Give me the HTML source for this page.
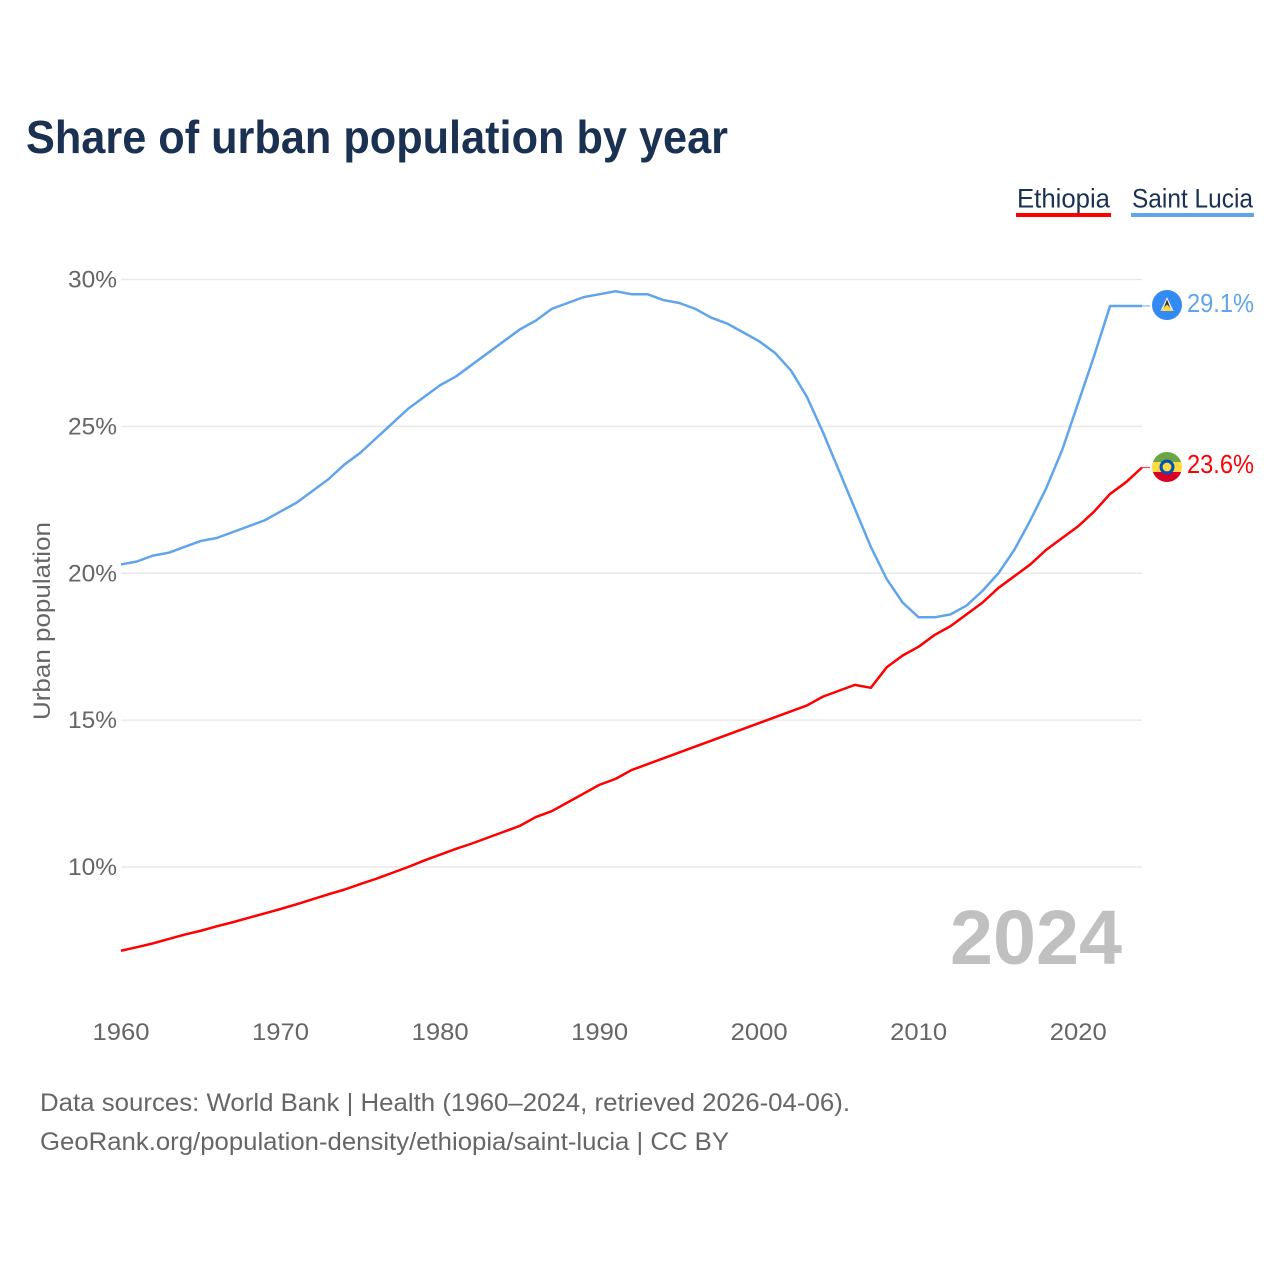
<!DOCTYPE html>
<html lang="en">
<head>
<meta charset="utf-8">
<title>Share of urban population by year</title>
<style>
  html, body { margin: 0; padding: 0; background: #fff; }
  svg { display: block; font-family: "Liberation Sans", sans-serif; }
</style>
</head>
<body>
<svg id="chart" width="1280" height="1280" viewBox="0 0 1280 1280" xmlns="http://www.w3.org/2000/svg">
  <defs>
    <clipPath id="lucia-clip"><circle cx="1167" cy="305" r="15"/></clipPath>
    <clipPath id="ethiopia-clip"><circle cx="1167" cy="467" r="15"/></clipPath>
  </defs>
  <rect width="1280" height="1280" fill="#fff"/>
  <text x="26" y="153" font-size="46" font-weight="700" fill="#1a3152" textLength="702" lengthAdjust="spacingAndGlyphs">Share of urban population by year</text>

  <g>
    <text x="1017" y="207.5" font-size="26.5" fill="#1a3152" textLength="93" lengthAdjust="spacingAndGlyphs">Ethiopia</text>
    <rect x="1016" y="213" width="95" height="4" fill="#ff0000"/>
    <text x="1132" y="207.5" font-size="26.5" fill="#1a3152" textLength="121" lengthAdjust="spacingAndGlyphs">Saint Lucia</text>
    <rect x="1131" y="213" width="123" height="4" fill="#60a5ec"/>
  </g>

  <g id="grid"></g>
  <g id="y-ticks"></g>
  <g id="x-ticks"></g>

  <text transform="translate(50,720) rotate(-90)" x="0" y="0" font-size="24" fill="#666" textLength="198" lengthAdjust="spacingAndGlyphs">Urban population</text>

  <text x="950" y="964" font-size="77" font-weight="700" fill="#c0c0c0" textLength="172" lengthAdjust="spacingAndGlyphs">2024</text>

  <g id="series"></g>

  <g>
    <g clip-path="url(#lucia-clip)">
      <rect x="1152" y="290" width="30" height="30" fill="#338af3"/>
      <polygon points="1160.5,311 1173.5,311 1167,297" fill="#f0f0f0"/>
      <polygon points="1162.5,311 1171.5,311 1167,299.5" fill="#333"/>
      <polygon points="1160.5,311 1173.5,311 1167,304.5" fill="#ffda44"/>
    </g>
  </g>
  <g>
    <g clip-path="url(#ethiopia-clip)">
      <rect x="1152" y="452" width="30" height="10" fill="#6da544"/>
      <rect x="1152" y="462" width="30" height="10" fill="#ffda44"/>
      <rect x="1152" y="472" width="30" height="10" fill="#d80027"/>
      <circle cx="1167" cy="467" r="7.5" fill="#0052b4"/>
      <circle cx="1167" cy="467" r="4.4" fill="#ffda44"/>
    </g>
  </g>

  <text x="1187" y="312" font-size="26" fill="#60a5ec" textLength="67" lengthAdjust="spacingAndGlyphs">29.1%</text>
  <text x="1187" y="473" font-size="26" fill="#ff0000" textLength="67" lengthAdjust="spacingAndGlyphs">23.6%</text>

  <text x="40" y="1111" font-size="25" fill="#666" textLength="810" lengthAdjust="spacingAndGlyphs">Data sources: World Bank | Health (1960–2024, retrieved 2026-04-06).</text>
  <text x="40" y="1150" font-size="25" fill="#666" textLength="689" lengthAdjust="spacingAndGlyphs">GeoRank.org/population-density/ethiopia/saint-lucia | CC BY</text>
</svg>
<script>
const years = [1960,1961,1962,1963,1964,1965,1966,1967,1968,1969,1970,1971,1972,1973,1974,1975,1976,1977,1978,1979,1980,1981,1982,1983,1984,1985,1986,1987,1988,1989,1990,1991,1992,1993,1994,1995,1996,1997,1998,1999,2000,2001,2002,2003,2004,2005,2006,2007,2008,2009,2010,2011,2012,2013,2014,2015,2016,2017,2018,2019,2020,2021,2022,2023,2024];
const saintLucia = [20.3,20.4,20.6,20.7,20.9,21.1,21.2,21.4,21.6,21.8,22.1,22.4,22.8,23.2,23.7,24.1,24.6,25.1,25.6,26.0,26.4,26.7,27.1,27.5,27.9,28.3,28.6,29.0,29.2,29.4,29.5,29.6,29.5,29.5,29.3,29.2,29.0,28.7,28.5,28.2,27.9,27.5,26.9,26.0,24.8,23.5,22.2,20.9,19.8,19.0,18.5,18.5,18.6,18.9,19.4,20.0,20.8,21.8,22.9,24.2,25.8,27.4,29.1,29.1,29.1];
const ethiopia = [7.15,7.27,7.4,7.55,7.7,7.83,7.98,8.12,8.27,8.42,8.57,8.73,8.9,9.07,9.23,9.42,9.6,9.8,10.0,10.22,10.42,10.62,10.8,11.0,11.2,11.4,11.7,11.9,12.2,12.5,12.8,13.0,13.3,13.5,13.7,13.9,14.1,14.3,14.5,14.7,14.9,15.1,15.3,15.5,15.8,16.0,16.2,16.1,16.8,17.2,17.5,17.9,18.2,18.6,19.0,19.5,19.9,20.3,20.8,21.2,21.6,22.1,22.7,23.1,23.6];
const yTicks = [10,15,20,25,30];
const yTickLabels = ["10%","15%","20%","25%","30%"];
const xTicks = [1960,1970,1980,1990,2000,2010,2020];
const xTickLabels = ["1960","1970","1980","1990","2000","2010","2020"];

const NS = "http://www.w3.org/2000/svg";
const xScale = function (year) { return 121 + (year - 1960) * (1142 - 121) / 64; };
const yScale = function (value) { return 867 - (value - 10) * (867 - 279.5) / 20; };

function make(tag, parent, attrs, text) {
  const el = document.createElementNS(NS, tag);
  for (const k in attrs) el.setAttribute(k, attrs[k]);
  if (text !== undefined) el.textContent = text;
  parent.appendChild(el);
  return el;
}

const gridGroup = document.getElementById("grid");
const yGroup = document.getElementById("y-ticks");
yTicks.forEach(function (v, i) {
  const line = make("line", gridGroup, { x1: 121, x2: 1142, y1: yScale(v), y2: yScale(v), stroke: "#e9e9e9", "stroke-width": 1.5 });
  
  
  const label = make("text", yGroup, { x: 68, y: yScale(v) + 8, "font-size": 24, fill: "#666", textLength: 49, lengthAdjust: "spacingAndGlyphs" }, yTickLabels[i]);
  
  
});

const xGroup = document.getElementById("x-ticks");
xTicks.forEach(function (v, i) {
  const label = make("text", xGroup, { x: xScale(v) - 28.5, y: 1040, "font-size": 24, fill: "#666", textLength: 57, lengthAdjust: "spacingAndGlyphs" }, xTickLabels[i]);
  
  
});

function pathFor(values) {
  return values.map(function (v, i) {
    return (i ? "L" : "M") + xScale(years[i]).toFixed(2) + " " + yScale(v).toFixed(2);
  }).join("");
}

const seriesGroup = document.getElementById("series");

const luciaLine = make("path", seriesGroup, { d: pathFor(saintLucia), fill: "none", stroke: "#60a5ec", "stroke-width": 2.5, "stroke-linejoin": "round" });


const luciaLeader = make("line", seriesGroup, { x1: xScale(2024), x2: 1150, y1: yScale(saintLucia[saintLucia.length - 1]), y2: yScale(saintLucia[saintLucia.length - 1]), stroke: "#60a5ec", "stroke-width": 1.2, "stroke-opacity": 0.8 });



const ethiopiaLine = make("path", seriesGroup, { d: pathFor(ethiopia), fill: "none", stroke: "#ff0000", "stroke-width": 2.5, "stroke-linejoin": "round" });


const ethiopiaLeader = make("line", seriesGroup, { x1: xScale(2024), x2: 1150, y1: yScale(ethiopia[ethiopia.length - 1]), y2: yScale(ethiopia[ethiopia.length - 1]), stroke: "#ff0000", "stroke-width": 1.2, "stroke-opacity": 0.7 });


</script>
</body>
</html>
